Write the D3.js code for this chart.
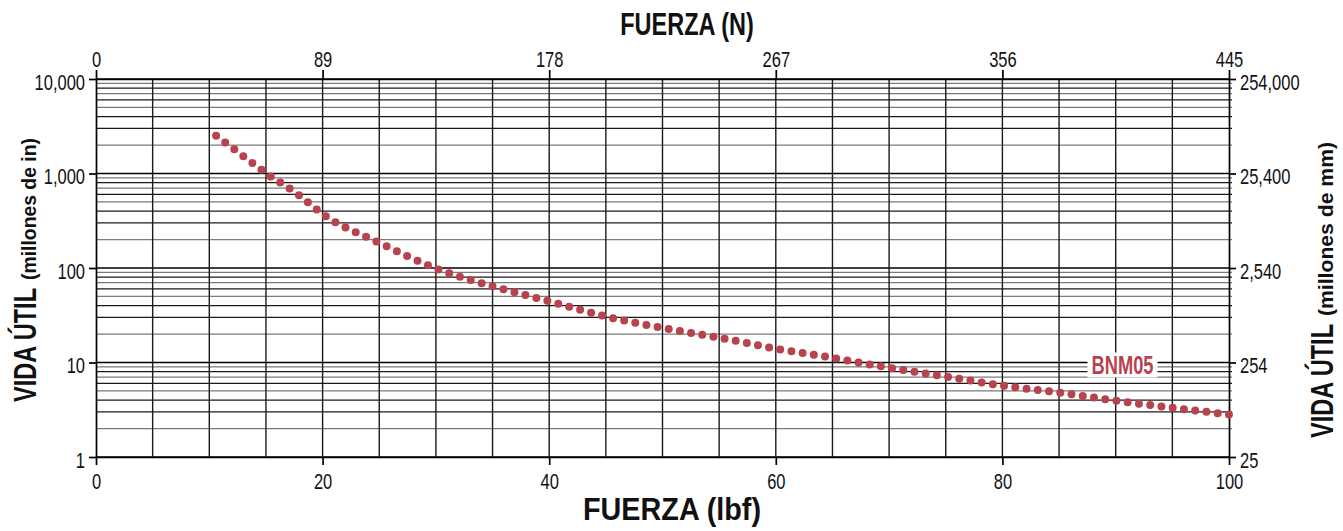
<!DOCTYPE html>
<html>
<head>
<meta charset="utf-8">
<script src="https://cdn.jsdelivr.net/npm/d3@7"></script>
<style>
  body { margin: 0; background: #fff; }
  svg { display: block; }
  text { font-family: "Liberation Sans", Arial, sans-serif; fill: #111; }
</style>
</head>
<body>
<div id="chart"></div>
<script>
// force (lbf) and life (millions of in)
const force = [10.6, 12, 15, 18, 20, 25, 30, 35, 40, 45, 50, 55, 60, 65, 70, 75, 80, 85, 90, 95, 100];
const life = [2510, 1880, 1010, 580, 373, 185, 99, 64, 44.5, 30.7, 23.2, 18.3, 14, 11.2, 8.8, 7.1, 5.7, 4.8, 3.95, 3.32, 2.82];

const lbfTicks = [0, 20, 40, 60, 80, 100];
const newtonTicks = [0, 89, 178, 267, 356, 445];
const inTicks = [1, 10, 100, 1000, 10000];
const mmTicks = [25.4, 254, 2540, 25400, 254000];
const mmLabels = ["25", "254", "2,540", "25,400", "254,000"];
const seriesName = "BNM05";

const width = 1343, height = 531;
const plotL = 96, plotR = 1229, plotT = 79, plotB = 457;
const red = "#b8434d";

const svg = d3.select("#chart").append("svg")
  .attr("width", width)
  .attr("height", height);

// the original uses a condensed face, so squeeze the text horizontally
function condense(sel, k) {
  sel.each(function () {
    let w = this.getComputedTextLength();
    d3.select(this).attr("textLength", w * k).attr("lengthAdjust", "spacingAndGlyphs");
  });
}

let x = d3.scaleLinear().domain([0, 100]).range([plotL, plotR]);
let xN = d3.scaleLinear().domain([0, 445]).range([plotL, plotR]);
let y = d3.scaleLog().domain([1, 10000]).range([plotB, plotT]);
let yMm = d3.scaleLog().domain([25.4, 254000]).range([plotB, plotT]);

// horizontal grid, 2..9 in every decade
let minor = [];
for (let e = 0; e < 4; e++) {
  for (let k = 2; k <= 9; k++) minor.push(k * Math.pow(10, e));
}
svg.append("g").selectAll("line")
  .data(minor)
  .enter().append("line")
  .attr("x1", plotL).attr("x2", plotR + 3)
  .attr("y1", d => y(d)).attr("y2", d => y(d))
  .attr("stroke", (d, i) => [0, 3, 5, 7].includes(i % 8) ? "#7a7a7a" : "#1a1a1a")
  .attr("stroke-width", 1.2);

svg.append("g").selectAll("line")
  .data(inTicks)
  .enter().append("line")
  .attr("x1", plotL).attr("x2", plotR)
  .attr("y1", d => y(d)).attr("y2", d => y(d))
  .attr("stroke", "#000")
  .attr("stroke-width", 1.7);

// vertical grid every 5 lbf
svg.append("g").selectAll("line")
  .data(d3.range(5, 100, 5))
  .enter().append("line")
  .attr("x1", d => x(d)).attr("x2", d => x(d))
  .attr("y1", plotT).attr("y2", plotB)
  .attr("stroke", "#1a1a1a")
  .attr("stroke-width", 1.4);

// axes
function styleAxis(g) {
  g.selectAll("path").attr("stroke", "#000").attr("stroke-width", 1.7);
  g.selectAll("line").attr("stroke", "#000").attr("stroke-width", 1.7);
  g.selectAll("text").attr("font-size", 22).attr("fill", "#111")
    .style("font-family", '"Liberation Sans", Arial, sans-serif')
    .call(condense, 0.75);
}

svg.append("g")
  .attr("transform", `translate(0,${plotB})`)
  .call(d3.axisBottom(x).tickValues(lbfTicks).tickSize(8).tickSizeOuter(0).tickPadding(8))
  .call(styleAxis);

svg.append("g")
  .attr("transform", `translate(0,${plotT})`)
  .call(d3.axisTop(xN).tickValues(newtonTicks).tickSize(9).tickSizeOuter(0).tickPadding(3))
  .call(styleAxis);

svg.append("g")
  .attr("transform", `translate(${plotL},0)`)
  .call(d3.axisLeft(y).tickValues(inTicks).tickFormat(d3.format(",")).tickSize(7).tickSizeOuter(0).tickPadding(4))
  .call(styleAxis)
  .selectAll("text").attr("y", 3);

svg.append("g")
  .attr("transform", `translate(${plotR},0)`)
  .call(d3.axisRight(yMm).tickValues(mmTicks).tickFormat((d, i) => mmLabels[i]).tickSize(7).tickSizeOuter(0).tickPadding(4))
  .call(styleAxis)
  .selectAll("text").attr("y", 3);

// dotted curve
let line = d3.line()
  .x((d, i) => x(force[i]))
  .y((d, i) => y(life[i]))
  .curve(d3.curveMonotoneX);

let path = svg.append("path")
  .datum(life)
  .attr("d", line)
  .attr("fill", "none")
  .attr("stroke", red)
  .attr("stroke-width", 8)
  .attr("stroke-linecap", "round");

let total = path.node().getTotalLength();
let n = Math.round(total / 11.3);
path.attr("stroke-dasharray", `0 ${total / n - 0.001}`);

// series label with white box
let lab = svg.append("g").attr("transform", `translate(${x(90.6)},${y(10)})`);
lab.append("rect")
  .attr("x", -35).attr("y", -10)
  .attr("width", 70).attr("height", 25)
  .attr("fill", "#fff");
lab.append("text")
  .attr("text-anchor", "middle")
  .attr("y", 11)
  .attr("font-size", 25)
  .attr("font-weight", "bold")
  .style("fill", red)
  .text(seriesName)
  .call(condense, 0.73);

// titles
svg.append("text")
  .attr("x", 687).attr("y", 35)
  .attr("text-anchor", "middle")
  .attr("font-size", 30.5).attr("font-weight", "bold")
  .text("FUERZA (N)")
  .call(condense, 0.77);

svg.append("text")
  .attr("x", 672).attr("y", 520)
  .attr("text-anchor", "middle")
  .attr("font-size", 30.5).attr("font-weight", "bold")
  .attr("textLength", 178).attr("lengthAdjust", "spacingAndGlyphs")
  .text("FUERZA (lbf)");

function sideTitle(bx, yBottom, small, smallLen) {
  let g = svg.append("g").attr("transform", `translate(${bx},${yBottom}) rotate(-90)`);
  g.append("text")
    .attr("x", 0).attr("y", 0)
    .attr("font-size", 30.5).attr("font-weight", "bold")
    .attr("textLength", 114).attr("lengthAdjust", "spacingAndGlyphs")
    .text("VIDA ÚTIL");
  g.append("text")
    .attr("x", 122).attr("y", 0)
    .attr("font-size", 20).attr("font-weight", "bold")
    .attr("textLength", smallLen).attr("lengthAdjust", "spacingAndGlyphs")
    .text(small);
}
sideTitle(36, 402, "(millones de in)", 142);
sideTitle(1333, 438, "(millones de mm)", 174);
</script>
</body>
</html>
